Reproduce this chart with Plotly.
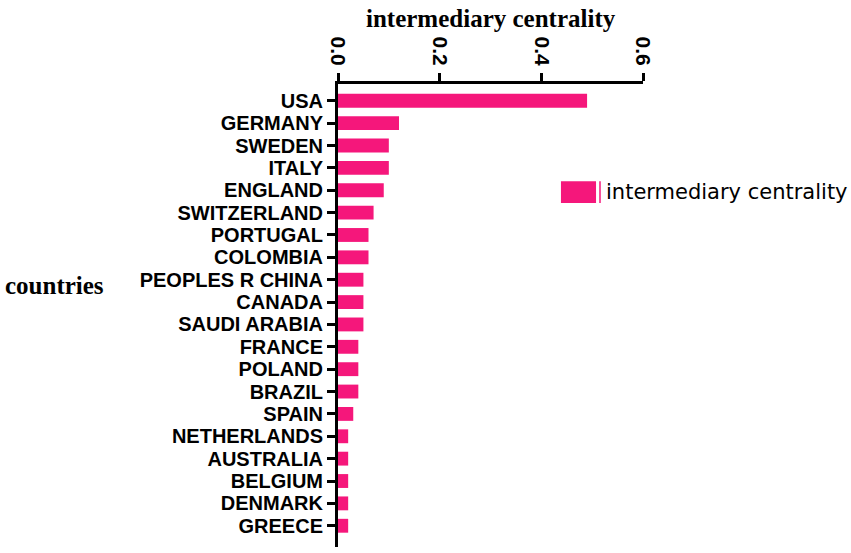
import plotly.graph_objects as go

countries = ["USA", "GERMANY", "SWEDEN", "ITALY", "ENGLAND", "SWITZERLAND", "PORTUGAL",
             "COLOMBIA", "PEOPLES R CHINA", "CANADA", "SAUDI ARABIA", "FRANCE", "POLAND",
             "BRAZIL", "SPAIN", "NETHERLANDS", "AUSTRALIA", "BELGIUM", "DENMARK", "GREECE"]
centrality = [0.49, 0.12, 0.10, 0.10, 0.09, 0.07, 0.06, 0.06, 0.05, 0.05, 0.05,
              0.04, 0.04, 0.04, 0.03, 0.02, 0.02, 0.02, 0.02, 0.02]
x_ticks = [0.0, 0.2, 0.4, 0.6]
x_tick_text = ["0.0", "0.2", "0.4", "0.6"]

PINK = "#F5177B"

fig = go.Figure()
fig.add_trace(go.Bar(
    x=centrality, y=countries, orientation="h",
    marker=dict(color=PINK, line=dict(width=0)),
    name="intermediary centrality", showlegend=False,
))

fig.update_layout(
    width=851, height=553,
    margin=dict(l=338, r=208, t=84, b=6),
    paper_bgcolor="white", plot_bgcolor="white",
    bargap=0.38,
    xaxis=dict(
        side="top", range=[0, 0.6], tickvals=x_ticks, ticktext=x_tick_text,
        tickangle=90, ticks="outside", ticklen=8, tickwidth=3, tickcolor="black",
        showline=True, linewidth=3, linecolor="black", showgrid=False, zeroline=False,
        tickfont=dict(family="Liberation Sans", size=21, color="black", weight="bold"),
    ),
    yaxis=dict(
        type="category", categoryorder="array", categoryarray=countries,
        tickmode="array", tickvals=countries, ticktext=countries,
        range=[19.95, -0.75],
        ticks="outside", ticklen=8, tickwidth=2.5, tickcolor="black",
        showline=True, linewidth=3, linecolor="black", showgrid=False, zeroline=False,
        tickfont=dict(family="Liberation Sans", size=20, color="black", weight="bold"),
    ),
    shapes=[
        dict(type="rect", xref="paper", yref="paper", x0=0.731, x1=0.846, y0=0.743, y1=0.790,
             fillcolor=PINK, line=dict(width=0)),
        dict(type="line", xref="paper", yref="paper", x0=0.859, x1=0.859, y0=0.743, y1=0.790,
             line=dict(color=PINK, width=1.5)),
    ],
    annotations=[
        dict(text="<b>intermediary centrality</b>", xref="paper", yref="paper", x=0.5, y=1.1425,
             xanchor="center", yanchor="middle", showarrow=False,
             font=dict(family="Liberation Serif", size=25, color="black")),
        dict(text="<b>countries</b>", xref="paper", yref="paper", x=-1.1, y=(547 - 285) / 463,
             xanchor="left", yanchor="middle", showarrow=False,
             font=dict(family="Liberation Serif", size=25, color="black")),
        dict(text="intermediary centrality", xref="paper", yref="paper", x=0.872, y=0.767,
             xanchor="left", yanchor="middle", showarrow=False,
             font=dict(family="DejaVu Sans", size=21, color="black")),
    ],
)

fig.write_html("out.html", config={"displayModeBar": False},
               post_script="document.body.style.margin='0';")
